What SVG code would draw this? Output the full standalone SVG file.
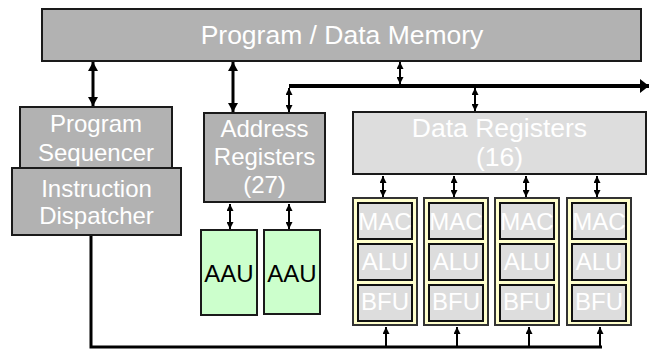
<svg xmlns="http://www.w3.org/2000/svg" width="649" height="351" viewBox="0 0 649 351">
<style>
.box{fill:#b2b2b2;stroke:#1a1a1a;stroke-width:2}
.lbox{fill:#dddddd;stroke:#1a1a1a;stroke-width:2}
.col{fill:#ffffcc;stroke:#333333;stroke-width:2}
.unit{fill:#dddddd;stroke:#111111;stroke-width:2}
.aau{fill:#ccffcc;stroke:#1a1a1a;stroke-width:2}
text{font-family:"Liberation Sans",Arial,Helvetica,sans-serif;text-anchor:middle}
.w{fill:#ffffff}
.t26{font-size:26.5px}
.t23{font-size:24px}
.t24{font-size:24px}
.k{fill:#000000;font-size:24px}
.thick{stroke:#000;stroke-width:3;fill:none}
.thin{stroke:#000;stroke-width:2;fill:none}
.bus{stroke:#000;stroke-width:4;fill:none}
</style>
<defs>
<marker id="ah" viewBox="0 0 9 10" refX="9" refY="5" markerUnits="userSpaceOnUse" markerWidth="9" markerHeight="10" orient="auto-start-reverse"><path d="M0,0 L9,5 L0,10 z" fill="#000"/></marker>
<marker id="as" viewBox="0 0 7 7" refX="7" refY="3.5" markerUnits="userSpaceOnUse" markerWidth="7" markerHeight="7" orient="auto-start-reverse"><path d="M0,0 L7,3.5 L0,7 z" fill="#000"/></marker>
<marker id="ab" viewBox="0 0 9 14" refX="9" refY="7" markerUnits="userSpaceOnUse" markerWidth="9" markerHeight="14" orient="auto"><path d="M0,0 L9,7 L0,14 z" fill="#000"/></marker>
</defs>

<g id="connectors">
<line class="thick" x1="93" y1="62" x2="93" y2="106" marker-start="url(#ah)" marker-end="url(#ah)"/>
<line class="thick" x1="233" y1="62" x2="233" y2="112" marker-start="url(#ah)" marker-end="url(#ah)"/>
<line class="thin" x1="400" y1="62" x2="400" y2="84" marker-start="url(#as)" marker-end="url(#as)"/>
<line class="bus" x1="289" y1="86" x2="649" y2="86" marker-end="url(#ab)"/>
<line class="thin" x1="289" y1="88" x2="289" y2="112" marker-start="url(#as)" marker-end="url(#as)"/>
<line class="thin" x1="475" y1="88" x2="475" y2="111" marker-start="url(#as)" marker-end="url(#as)"/>
<line class="thin" x1="230" y1="204" x2="230" y2="229" marker-start="url(#as)" marker-end="url(#as)"/>
<line class="thin" x1="289" y1="204" x2="289" y2="229" marker-start="url(#as)" marker-end="url(#as)"/>
<line class="thin" x1="383" y1="176" x2="383" y2="197" marker-start="url(#as)" marker-end="url(#as)"/>
<line class="thin" x1="454" y1="176" x2="454" y2="197" marker-start="url(#as)" marker-end="url(#as)"/>
<line class="thin" x1="526" y1="176" x2="526" y2="197" marker-start="url(#as)" marker-end="url(#as)"/>
<line class="thin" x1="597" y1="176" x2="597" y2="197" marker-start="url(#as)" marker-end="url(#as)"/>
<polyline class="thick" points="91,235 91,347 602,347"/>
<line class="thin" x1="386" y1="346" x2="386" y2="327" marker-end="url(#as)"/>
<line class="thin" x1="457" y1="346" x2="457" y2="327" marker-end="url(#as)"/>
<line class="thin" x1="529" y1="346" x2="529" y2="327" marker-end="url(#as)"/>
<line class="thin" x1="600" y1="346" x2="600" y2="327" marker-end="url(#as)"/>
</g>

<g id="memory">
<rect class="box" x="42" y="9" width="599" height="52"/>
<text class="w t26" x="342" y="44">Program / Data Memory</text>
</g>

<g id="sequencer">
<rect class="box" x="20" y="107" width="152" height="61"/>
<text class="w t23" x="96" y="132">Program</text>
<text class="w t23" x="96" y="161">Sequencer</text>
</g>

<g id="dispatcher">
<rect class="box" x="12" y="168" width="169" height="67"/>
<text class="w t23" x="96.5" y="197">Instruction</text>
<text class="w t23" x="96.5" y="224">Dispatcher</text>
</g>

<g id="address">
<rect class="box" x="204" y="113" width="121" height="89"/>
<text class="w t23" x="264.5" y="137">Address</text>
<text class="w t23" x="264.5" y="165">Registers</text>
<text class="w t23" x="264.5" y="193">(27)</text>
</g>

<g id="aau1">
<rect class="aau" x="201" y="230" width="56" height="85"/>
<text class="k" x="229" y="282">AAU</text>
</g>
<g id="aau2">
<rect class="aau" x="264" y="230" width="56" height="84"/>
<text class="k" x="292" y="282">AAU</text>
</g>

<g id="dataregs">
<rect class="lbox" x="353" y="112" width="293" height="62"/>
<text class="w t26" x="499.5" y="137">Data Registers</text>
<text class="w t26" x="499.5" y="166">(16)</text>
</g>

<g id="col1" transform="translate(353,198)">
<rect class="col" x="0" y="0" width="64" height="127"/>
<rect class="unit" x="5" y="5" width="54" height="36"/>
<rect class="unit" x="5" y="46" width="54" height="36"/>
<rect class="unit" x="5" y="87" width="54" height="36"/>
<text class="w t24" x="32" y="32">MAC</text>
<text class="w t24" x="32" y="72">ALU</text>
<text class="w t24" x="32" y="112">BFU</text>
</g>
<g id="col2" transform="translate(424,198)">
<rect class="col" x="0" y="0" width="64" height="127"/>
<rect class="unit" x="5" y="5" width="54" height="36"/>
<rect class="unit" x="5" y="46" width="54" height="36"/>
<rect class="unit" x="5" y="87" width="54" height="36"/>
<text class="w t24" x="32" y="32">MAC</text>
<text class="w t24" x="32" y="72">ALU</text>
<text class="w t24" x="32" y="112">BFU</text>
</g>
<g id="col3" transform="translate(495,198)">
<rect class="col" x="0" y="0" width="64" height="127"/>
<rect class="unit" x="5" y="5" width="54" height="36"/>
<rect class="unit" x="5" y="46" width="54" height="36"/>
<rect class="unit" x="5" y="87" width="54" height="36"/>
<text class="w t24" x="32" y="32">MAC</text>
<text class="w t24" x="32" y="72">ALU</text>
<text class="w t24" x="32" y="112">BFU</text>
</g>
<g id="col4" transform="translate(567,198)">
<rect class="col" x="0" y="0" width="64" height="127"/>
<rect class="unit" x="5" y="5" width="54" height="36"/>
<rect class="unit" x="5" y="46" width="54" height="36"/>
<rect class="unit" x="5" y="87" width="54" height="36"/>
<text class="w t24" x="32" y="32">MAC</text>
<text class="w t24" x="32" y="72">ALU</text>
<text class="w t24" x="32" y="112">BFU</text>
</g>
</svg>
